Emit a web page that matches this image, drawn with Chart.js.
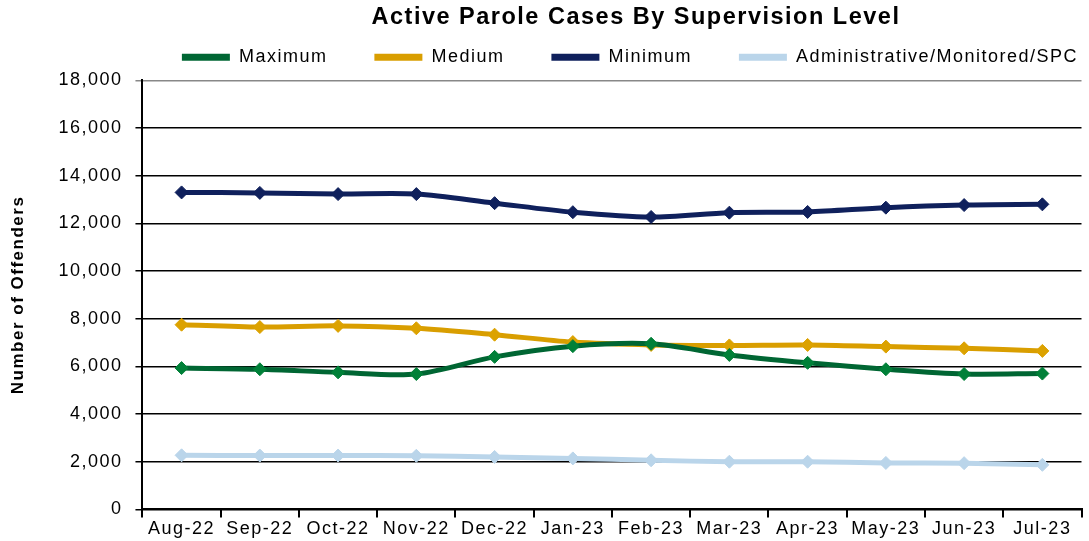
<!DOCTYPE html>
<html>
<head>
<meta charset="utf-8">
<script src="https://cdn.jsdelivr.net/npm/chart.js@4"></script>
<style>
  html, body { margin: 0; padding: 0; background: #fff; }
  #wrap { width: 1089px; height: 541px; }
</style>
</head>
<body>
<div id="wrap"><canvas id="stage"></canvas></div>
<script>
// months
var months = ["Aug-22", "Sep-22", "Oct-22", "Nov-22", "Dec-22", "Jan-23",
              "Feb-23", "Mar-23", "Apr-23", "May-23", "Jun-23", "Jul-23"];

// series
var maximum = [5930, 5880, 5750, 5680, 6400, 6850, 6950, 6480, 6150, 5880, 5680, 5700];
var medium = [7750, 7650, 7700, 7600, 7330, 7020, 6900, 6880, 6900, 6830, 6760, 6650];
var minimum = [13300, 13280, 13230, 13230, 12850, 12470, 12270, 12450, 12480, 12660, 12770, 12800];
var admin = [2270, 2260, 2260, 2250, 2200, 2140, 2060, 2000, 2000, 1950, 1940, 1870];

var yTicks = [0, 2000, 4000, 6000, 8000, 10000, 12000, 14000, 16000, 18000];

var FONT = "'Liberation Sans', Arial, sans-serif";
Chart.defaults.font.family = FONT;
Chart.defaults.color = '#000';

function line(label, data, color, pointColor) {
    return {
        label: label,
        data: data,
        borderColor: color,
        backgroundColor: color,
        borderWidth: 5,
        tension: 0.3,
        pointStyle: 'rectRot',
        pointRadius: 6.5,
        pointBackgroundColor: pointColor,
        pointBorderColor: pointColor,
        pointBorderWidth: 1
    };
}

// spreads the letters a bit, like the original export
// and nudges title / legend to the right like in the original
var tweaks = {
    id: 'tweaks',
    beforeLayout: function (chart) { chart.ctx.letterSpacing = '1.5px'; },
    afterLayout: function (chart) {
        chart.titleBlock.left += 24; chart.titleBlock.right += 24;
        chart.legend.left += 36; chart.legend.right += 36;
    },
    beforeDraw: function (chart) { chart.ctx.letterSpacing = '1.5px'; }
};

var canvas = document.getElementById('stage');
var chart = new Chart(canvas, {
    type: 'line',
    data: {
        labels: months,
        datasets: [
            line('Maximum', maximum, '#006633', '#008038'),
            line('Medium', medium, '#d99e00', '#dca200'),
            line('Minimum', minimum, '#0f205c', '#0f205c'),
            line('Administrative/Monitored/SPC', admin, '#bad5ea', '#bad5ea')
        ]
    },
    options: {
        responsive: true,
        maintainAspectRatio: false,
        animation: false,
        layout: { padding: { left: 0, right: 0, top: 0, bottom: 0 } },
        plugins: {
            title: {
                display: true,
                text: 'Active Parole Cases By Supervision Level',
                font: { size: 23.5, weight: 'bold' },
                color: '#000',
                fullSize: false,
                padding: { top: 3, bottom: -30 }
            },
            subtitle: {
                display: true,
                text: ' ',
                weight: 500,
                font: { size: 1 },
                padding: { top: 0, bottom: 3 }
            },
            legend: {
                fullSize: true,
                align: 'end',
                labels: {
                    boxWidth: 48,
                    boxHeight: 7,
                    padding: 47,
                    font: { size: 18 },
                    color: '#000',
                    generateLabels: function (c) {
                        return c.data.datasets.map(function (ds, i) {
                            return {
                                text: ds.label,
                                fillStyle: ds.borderColor,
                                strokeStyle: ds.borderColor,
                                lineWidth: 0,
                                hidden: false,
                                datasetIndex: i
                            };
                        });
                    }
                }
            },
            tooltip: { enabled: false }
        },
        scales: {
            x: {
                offset: true,
                grid: {
                    offset: true,
                    drawOnChartArea: false,
                    color: '#000',
                    lineWidth: 2,
                    tickLength: 8
                },
                border: { color: '#000', width: 2 },
                ticks: { font: { size: 18 }, padding: 1, maxRotation: 0, autoSkip: false }
            },
            y: {
                min: 0,
                max: 18000,
                afterBuildTicks: function (axis) {
                    axis.ticks = yTicks.map(function (v) { return { value: v }; });
                },
                grid: {
                    color: function (ctx) { return ctx.tick && ctx.tick.value === 18000 ? '#888' : '#000'; },
                    lineWidth: 1.5,
                    tickLength: 7
                },
                border: { color: '#000', width: 2 },
                ticks: {
                    font: { size: 18 },
                    padding: 13,
                    callback: function (v) { return v.toLocaleString('en-US'); }
                },
                title: {
                    display: true,
                    text: 'Number of Offenders',
                    font: { size: 17, weight: 'bold' },
                    padding: { top: 8, bottom: 17 }
                }
            }
        }
    },
    plugins: [tweaks]
});
</script>
</body>
</html>
